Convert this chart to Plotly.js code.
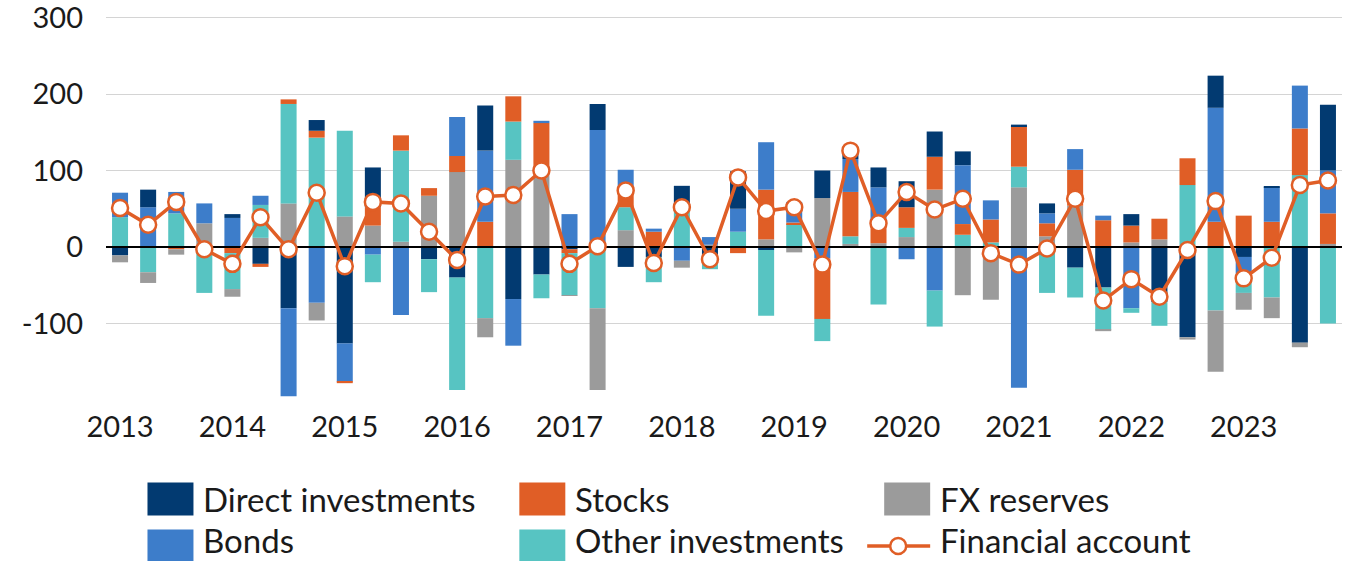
<!DOCTYPE html>
<html>
<head>
<meta charset="utf-8">
<script src="https://cdn.plot.ly/plotly-3.0.1.min.js"></script>
<style>
  html, body { margin: 0; padding: 0; background: #ffffff; }
  #chart { width: 1361px; height: 561px; }
</style>
</head>
<body>
<div id="chart"></div>
<script>
// ---- data (quarterly, 2013Q1 .. 2023Q4) ----
var years = [2013, 2014, 2015, 2016, 2017, 2018, 2019, 2020, 2021, 2022, 2023];
var quarters = ['Q1', 'Q2', 'Q3', 'Q4'];

var directInvestments = [
  -11, 23, 0, 0, 5, -22, -80, 14,
  -126, 52, 0, -16, -40, 59, -68, -36,
  -3, 34, -26, -13, 32, -17, 49, -4,
  0, 36, 11, 26, 34, 33, 18, 0,
  2, 13, -27, -53, 15, -72, -118, 42,
  -13, 1, -125, 86
];
var bonds = [
  32, 52, 28, 26, 38, 12, -115, -73,
  -50, -10, -89, 0, 51, 93, -61, 3,
  43, 153, 25, 4, -18, 10, 30, 62,
  27, -15, 43, 48, -16, -57, 77, 25,
  -184, 13, 27, 6, -80, 0, 0, 149,
  -22, 45, 56, 56
];
var stocks = [
  0, 0, -3, 0, -8, -4, 6, 9,
  -2, 24, 20, 10, 21, 33, 33, 67,
  -5, 0, 24, 20, 0, 0, -8, 65,
  2, -79, 58, 25, 27, 43, 14, 30,
  53, 17, 47, 35, 22, 27, 35, 33,
  41, 33, 61, 40
];
var otherInvestments = [
  39, -33, 44, -60, -47, 43, 130, 143,
  112, -36, 119, -43, -147, -93, 50, -31,
  -55, -80, 30, -33, 48, -12, 20, -86,
  30, -29, 10, -75, 12, -47, 16, 6,
  27, -60, -39, -55, -6, -31, 81, -83,
  -25, -66, 94, -100
];
var fxReserves = [
  -9, -14, -7, 31, -10, 12, 57, -23,
  40, 28, 7, 67, 98, -25, 114, 95,
  -1, -107, 22, 0, -9, 3, 0, 10,
  -7, 64, 4, 5, 13, 75, -63, -69,
  78, 14, 54, -2, 6, 10, -3, -80,
  -22, -27, -6, 4
];
var financialAccount = [
  51, 29, 59, -3, -22, 39, -3, 71,
  -25, 59, 57, 20, -17, 66, 68, 100,
  -22, 1, 74, -21, 52, -16, 91, 47,
  52, -23, 126, 31, 72, 49, 63, -8,
  -23, -2, 63, -70, -42, -65, -4, 60,
  -41, -14, 81, 87
];

var seriesNames = ['Direct investments', 'Bonds', 'Stocks', 'Other investments', 'FX reserves', 'Financial account'];
var yTicks = [-100, 0, 100, 200, 300];

// ---- styling ----
var colors = {
  direct: '#023A71',
  bonds: '#3D7DCA',
  stocks: '#E05E26',
  other: '#57C4C2',
  fx: '#9B9B9B',
  line: '#E05E26'
};
var FONT = 'Lato, "Open Sans", "DejaVu Sans", sans-serif';

// ---- derived ----
var labels = [];
years.forEach(function (y) { quarters.forEach(function (q) { labels.push(y + ' ' + q); }); });
var xs = labels.map(function (_, i) { return i; });
var xRange = [-0.5, labels.length - 0.5];
var yearTickVals = years.map(function (_, i) { return i * 4; });

function pos(arr) { return arr.map(function (v) { return v > 0 ? v : null; }); }
function neg(arr) { return arr.map(function (v) { return v < 0 ? v : null; }); }

function barTrace(name, vals, color) {
  return {
    type: 'bar', x: xs, y: vals, name: name, customdata: labels,
    textposition: 'none',
    marker: { color: color, line: { width: 0 } },
    showlegend: false,
    hovertemplate: '%{customdata}<br>' + name + ': %{y}<extra></extra>'
  };
}

// positive parts stack upward: FX, Other, Stocks, Bonds, Direct
// negative parts stack downward: Direct, Bonds, Stocks, Other, FX
var traces = [
  barTrace(seriesNames[4], pos(fxReserves), colors.fx),
  barTrace(seriesNames[3], pos(otherInvestments), colors.other),
  barTrace(seriesNames[2], pos(stocks), colors.stocks),
  barTrace(seriesNames[1], pos(bonds), colors.bonds),
  barTrace(seriesNames[0], pos(directInvestments), colors.direct),
  barTrace(seriesNames[0], neg(directInvestments), colors.direct),
  barTrace(seriesNames[1], neg(bonds), colors.bonds),
  barTrace(seriesNames[2], neg(stocks), colors.stocks),
  barTrace(seriesNames[3], neg(otherInvestments), colors.other),
  barTrace(seriesNames[4], neg(fxReserves), colors.fx),
  // zero reference line drawn above bars, below the line series
  {
    type: 'scatter', mode: 'lines', x: xRange, y: [0, 0],
    line: { color: '#000000', width: 2.2 }, hoverinfo: 'skip', showlegend: false
  },
  {
    type: 'scatter', mode: 'lines+markers', x: xs, y: financialAccount,
    name: seriesNames[5], customdata: labels, showlegend: false,
    line: { color: colors.line, width: 3.5 },
    marker: { size: 16, color: '#ffffff', line: { color: colors.line, width: 2.5 } },
    hovertemplate: '%{customdata}<br>Financial account: %{y}<extra></extra>'
  }
];

// ---- plot geometry (pixels) ----
var W = 1361, Hh = 561;
var L = 105.5, R = 19, T = 16, B = 161;
var plotW = W - L - R, plotH = Hh - T - B;
function px(xpix) { return (xpix - L) / plotW; }
function py(ypix) { return (Hh - B - ypix) / plotH; }

// ---- manual legend (shapes + text) ----
var legendItems = [
  { name: seriesNames[0], color: colors.direct, sx: 147, row: 0 },
  { name: seriesNames[2], color: colors.stocks, sx: 519, row: 0 },
  { name: seriesNames[4], color: colors.fx, sx: 884, row: 0 },
  { name: seriesNames[1], color: colors.bonds, sx: 147, row: 1 },
  { name: seriesNames[3], color: colors.other, sx: 519, row: 1 },
  { name: seriesNames[5], color: colors.line, sx: 884, row: 1, isLine: true }
];
var rowCenters = [499, 546];
var LEG_SIZE = 33;
var shapes = [], annotations = [];
legendItems.forEach(function (it) {
  var cy = rowCenters[it.row];
  if (it.isLine) {
    shapes.push({
      type: 'line', xref: 'paper', yref: 'paper',
      x0: px(867), x1: px(930), y0: py(cy), y1: py(cy),
      line: { color: it.color, width: 3.5 }
    });
    shapes.push({
      type: 'circle', xref: 'paper', yref: 'paper',
      x0: px(898 - 8), x1: px(898 + 8), y0: py(cy + 8), y1: py(cy - 8),
      fillcolor: '#ffffff', line: { color: it.color, width: 2.5 }
    });
  } else {
    shapes.push({
      type: 'rect', xref: 'paper', yref: 'paper',
      x0: px(it.sx), x1: px(it.sx + 46), y0: py(cy + 16.5), y1: py(cy - 16.5),
      fillcolor: it.color, line: { width: 0 }
    });
  }
  var ann = {
    xref: 'paper', yref: 'paper', x: px(it.sx + 55),
    xanchor: 'left', showarrow: false, borderpad: 0,
    text: it.name, font: { family: FONT, size: LEG_SIZE, color: '#1a1a1a' }
  };
  if (it.row === 0) { ann.y = py(cy); ann.yanchor = 'middle'; }
  else { ann.y = py(Hh - 0.5); ann.yanchor = 'bottom'; }
  annotations.push(ann);
});

var layout = {
  width: W, height: Hh,
  margin: { l: L, r: R, t: T, b: B, pad: 0 },
  paper_bgcolor: '#ffffff', plot_bgcolor: '#ffffff',
  barmode: 'relative', bargap: 0.43,
  showlegend: false,
  font: { family: FONT, size: 29, color: '#1a1a1a' },
  xaxis: {
    range: xRange, tickmode: 'array', tickvals: yearTickVals, ticktext: years.map(String),
    showgrid: false, zeroline: false, showline: false, ticks: '',
    ticklabelstandoff: 7, ticklabeloverflow: 'allow',
    tickfont: { family: FONT, size: 29, color: '#1a1a1a' },
    fixedrange: true
  },
  yaxis: {
    range: [-200, 302], tickmode: 'array', tickvals: yTicks, ticktext: yTicks.map(String),
    showgrid: true, gridcolor: '#d4d4d4', gridwidth: 1.3,
    zeroline: false, showline: false, ticks: '',
    ticklabelstandoff: 22, ticklabeloverflow: 'allow',
    tickfont: { family: FONT, size: 29, color: '#1a1a1a' },
    fixedrange: true
  },
  shapes: shapes,
  annotations: annotations
};

Plotly.newPlot('chart', traces, layout, { displayModeBar: false });
</script>
</body>
</html>
